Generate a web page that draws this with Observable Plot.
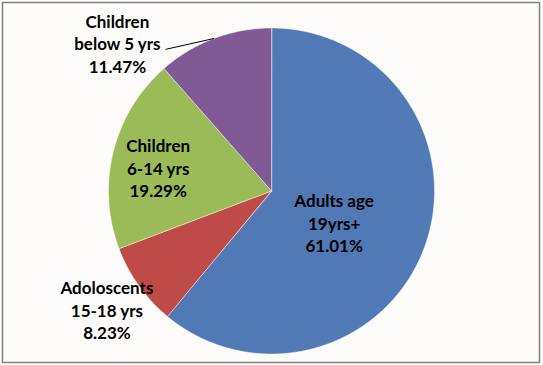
<!DOCTYPE html>
<html><head><meta charset="utf-8">
<script src="https://cdn.jsdelivr.net/npm/d3@7"></script>
<script src="https://cdn.jsdelivr.net/npm/@observablehq/plot@0.6"></script>
<style>body{margin:0;background:#fdfcfa;} #chart svg{display:block;}</style>
</head><body><div id="chart"></div>
<script>
// ---- data ----
const categories = ["Adults age\n19yrs+", "Adoloscents\n15-18 yrs", "Children\n6-14 yrs", "Children\nbelow 5 yrs"];
const values = [61.01, 8.23, 19.29, 11.47];
const valueLabels = ["61.01%", "8.23%", "19.29%", "11.47%"];
const colors = ["#5079b5", "#be4b48", "#9bbb59", "#7f5a95"];

// ---- layout (label placement, in radius units / degrees clockwise from top) ----
const labelLayout = [
  {r: 0.43, a: 116.7},
  {r: 1.245, a: 234.2},
  {r: 0.71, a: 281.7},
  {r: 1.31, a: 313.8}
];
const leaderFrom = {r: 1.085, a: 323.2}; // leader line start for the last slice

const rad = d => d * Math.PI / 180;
const arcs = d3.pie().sort(null).value(d => d)(values);

const pts = [];
arcs.forEach((arc, i) => {
  pts.push({k: i, x: 0, y: 0});
  const n = Math.max(2, Math.ceil((arc.endAngle - arc.startAngle) / 0.004));
  for (let j = 0; j <= n; j++) {
    const a = arc.startAngle + (arc.endAngle - arc.startAngle) * j / n;
    pts.push({k: i, x: Math.sin(a), y: Math.cos(a)});
  }
});

const labels = categories.map((c, i) => ({
  text: c + "\n" + valueLabels[i],
  x: labelLayout[i].r * Math.sin(rad(labelLayout[i].a)),
  y: labelLayout[i].r * Math.cos(rad(labelLayout[i].a))
}));

const last = arcs[3];
const mid = (last.startAngle + last.endAngle) / 2;
const leader = [{
  x1: leaderFrom.r * Math.sin(rad(leaderFrom.a)), y1: leaderFrom.r * Math.cos(rad(leaderFrom.a)),
  x2: Math.sin(mid), y2: Math.cos(mid)
}];

const cx = 271, cy = 190.5, R = 163;
const chart = Plot.plot({
  width: 543, height: 365,
  marginTop: 2, marginLeft: 2, marginRight: 4, marginBottom: 3,
  style: {background: "#fdfcfa"},
  x: {domain: [-1, 1], range: [cx - R, cx + R], axis: null},
  y: {domain: [-1, 1], range: [cy + R, cy - R], axis: null},
  marks: [
    Plot.frame({stroke: "#808080", strokeWidth: 1.5}),
    Plot.line(pts, {x: "x", y: "y", z: "k", fill: d => colors[d.k], stroke: "#ffffff", strokeOpacity: 0.7, strokeWidth: 0.7, curve: "linear-closed"}),
    Plot.link(leader, {x1: "x1", y1: "y1", x2: "x2", y2: "y2", stroke: "#000", strokeWidth: 1}),
    Plot.text(labels, {x: "x", y: "y", text: "text", fontSize: 17, fontWeight: "bold", fontFamily: "Lato", lineHeight: 1.32, fill: "#000"})
  ]
});
document.getElementById("chart").appendChild(chart);
</script>
</body></html>
